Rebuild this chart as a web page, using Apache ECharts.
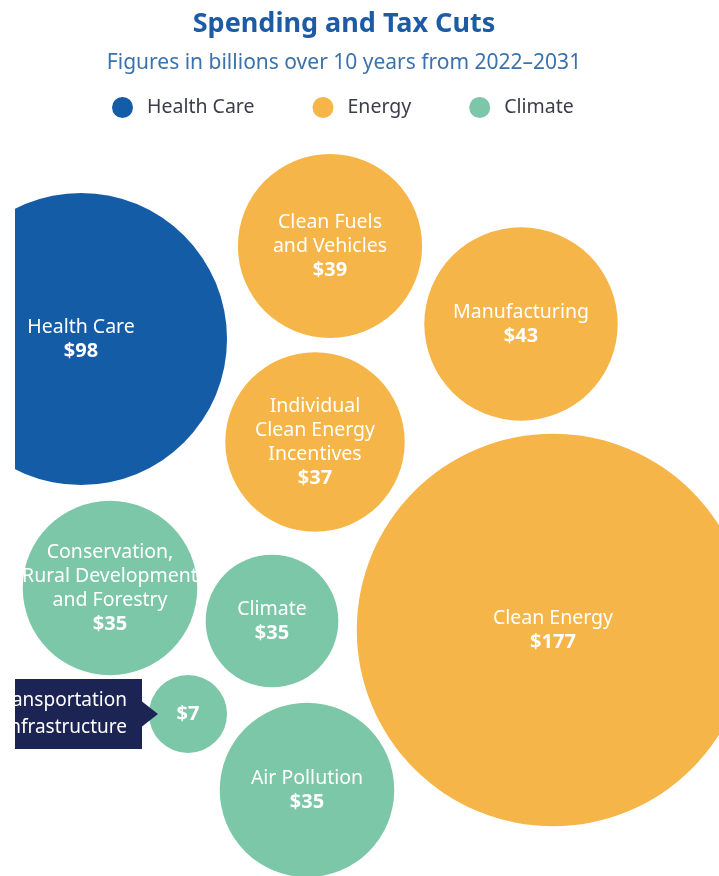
<!DOCTYPE html>
<html>
<head>
<meta charset="utf-8">
<script src="https://cdn.jsdelivr.net/npm/echarts@6/dist/echarts.min.js"></script>
<style>
html, body { margin: 0; padding: 0; background: #fff; }
#main { width: 719px; height: 876px; }
</style>
</head>
<body>
<div id="main"></div>
<script>
// spending items, billions over 2022-2031
var itemNames = ['Health Care', 'Clean Fuels\nand Vehicles', 'Manufacturing', 'Individual\nClean Energy\nIncentives',
    'Clean Energy', 'Conservation,\nRural Development\nand Forestry', 'Climate', 'Transportation\nInfrastructure', 'Air Pollution'];
var itemGroups = ['Health Care', 'Energy', 'Energy', 'Energy', 'Energy', 'Climate', 'Climate', 'Climate', 'Climate'];
var itemAmounts = [98, 39, 43, 37, 177, 35, 35, 7, 35];
// bubble centres in layout units
var layoutX = [81, 330, 521, 315, 553, 110, 272, 188, 307];
var layoutY = [339, 246, 324, 442, 630, 588, 621, 714, 790];
var groupNames = ['Health Care', 'Energy', 'Climate'];

var groupColors = {'Health Care': '#155ca6', 'Energy': '#f6b548', 'Climate': '#7dc7a9'};
var radiusScale = 14.75;
var shrink = {'Climate': 0.76};
var font = 'Noto Sans';

function bubbleLabel(p) {
    var lines = [];
    if (p.value[2] >= 10) {
        p.name.split('\n').forEach(function (l) { lines.push('{n|' + l + '}'); });
    }
    lines.push('{v|$' + p.value[2] + '}');
    return lines.join('\n');
}

var series = groupNames.map(function (g) {
    var data = [];
    for (var i = 0; i < itemNames.length; i++) {
        if (itemGroups[i] == g) {
            data.push({name: itemNames[i], value: [layoutX[i], layoutY[i], itemAmounts[i]]});
        }
    }
    return {
        name: g,
        type: 'scatter',
        data: data,
        symbol: 'circle',
        symbolSize: function (v, p) {
            return 2 * radiusScale * Math.sqrt(v[2]) * (shrink[p.name] || 1);
        },
        itemStyle: {color: groupColors[g], opacity: 1},
        label: {
            show: true,
            position: 'inside',
            formatter: bubbleLabel,
            rich: {
                n: {color: '#fff', fontFamily: font, fontSize: 19.5, lineHeight: 24},
                v: {color: '#fff', fontFamily: font, fontSize: 20, fontWeight: 'bold', lineHeight: 24}
            }
        },
        emphasis: {disabled: true}
    };
});

// outside callout for the small bubble
var calloutData = [];
for (var i = 0; i < itemNames.length; i++) {
    if (itemAmounts[i] < 10) {
        calloutData.push({name: itemNames[i], value: [layoutX[i], layoutY[i], itemAmounts[i]]});
    }
}
series.push({
    name: 'callout',
    type: 'scatter',
    data: calloutData,
    symbol: 'path://M0,0 L10,5 L0,10 Z',
    symbolSize: [16, 25],
    symbolKeepAspect: false,
    symbolOffset: [-38, 0],
    itemStyle: {color: '#1b2452', opacity: 1},
    label: {
        show: true,
        position: 'left',
        distance: 0,
        formatter: '{b}',
        color: '#fff',
        fontFamily: font,
        fontSize: 19,
        lineHeight: 27,
        backgroundColor: '#1b2452',
        padding: [9, 15, 7, 15]
    },
    emphasis: {disabled: true},
    z: 3
});

var chart = echarts.init(document.getElementById('main'));
chart.setOption({
    animation: false,
    title: {
        text: 'Spending and Tax Cuts',
        subtext: 'Figures in billions over 10 years from 2022\u20132031',
        left: 339,
        textAlign: 'center',
        top: 6,
        itemGap: 15,
        textStyle: {color: '#1d5ca4', fontFamily: font, fontSize: 27, fontWeight: 'bold'},
        subtextStyle: {color: '#3b72ab', fontFamily: font, fontSize: 21}
    },
    legend: {
        data: groupNames,
        top: 92,
        left: 107,
        icon: 'circle',
        itemWidth: 21,
        itemHeight: 21,
        itemGap: 58,
        textStyle: {color: '#3b3d4a', fontFamily: font, fontSize: 19.5, padding: [0, 0, 0, 9]}
    },
    grid: {left: 0, right: 0, top: 0, bottom: 0},
    xAxis: {type: 'value', min: 0, max: 719, show: false},
    yAxis: {type: 'value', min: 0, max: 876, inverse: true, show: false},
    graphic: [{
        type: 'rect',
        left: 0,
        top: 0,
        z: 100,
        shape: {width: 15, height: 876},
        style: {fill: '#fff'}
    }],
    series: series
});
</script>
</body>
</html>
